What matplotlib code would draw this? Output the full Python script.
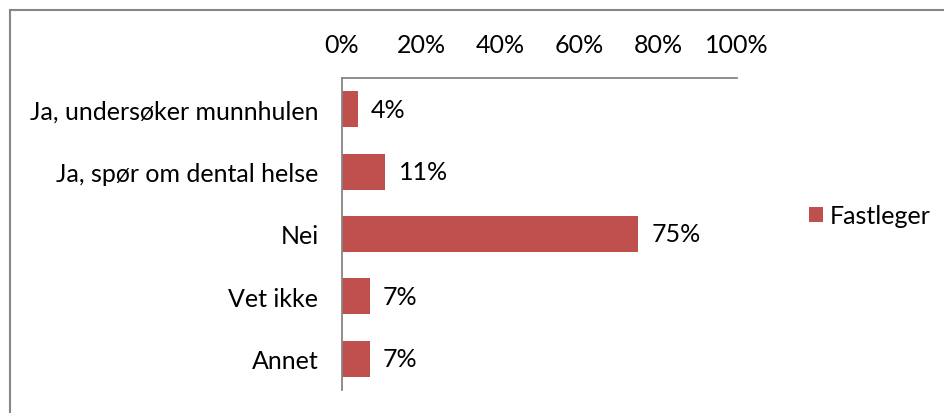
import matplotlib.pyplot as plt
from matplotlib.lines import Line2D

categories = ["Ja, undersøker munnhulen", "Ja, spør om dental helse", "Nei", "Vet ikke", "Annet"]
values = [4, 11, 75, 7, 7]
value_labels = ["4%", "11%", "75%", "7%", "7%"]
ticks = [0, 20, 40, 60, 80, 100]
series_name = "Fastleger"

bar_color = "#C0504D"
line_color = "#868686"

plt.rcParams["font.family"] = ["Lato", "DejaVu Sans"]
fs = 18

fig = plt.figure(figsize=(9.44, 4.14), dpi=100)
W, H = 944, 414
ax = fig.add_axes([342 / W, 1 - 391 / H, (737 - 342) / W, (391 - 79) / H])

y = list(range(len(categories)))
ax.barh(y, values, height=0.58, color=bar_color, label=series_name)
for yi, v, lab in zip(y, values, value_labels):
    ax.text(v + 3.3, yi, lab, va="center", ha="left", fontsize=fs)

ax.set_ylim(len(categories) - 0.5, -0.5)
ax.set_xlim(0, 100)
ax.set_yticks(y)
ax.set_yticklabels(categories, fontsize=fs)
ax.set_xticks(ticks)
ax.set_xticklabels([f"{t}%" for t in ticks], fontsize=fs)
ax.xaxis.tick_top()
ax.tick_params(axis="both", length=0)
ax.tick_params(axis="x", pad=16)
ax.tick_params(axis="y", pad=17)
for side in ["right", "bottom"]:
    ax.spines[side].set_visible(False)
for side in ["left", "top"]:
    ax.spines[side].set_color(line_color)
    ax.spines[side].set_linewidth(1.3)

fig.legend(loc="center left", bbox_to_anchor=(809 / W, 1 - 217 / H), frameon=False,
           fontsize=fs, handlelength=0.55, handleheight=0.55, handletextpad=0.3,
           borderpad=0, borderaxespad=0)

# chart outer border
fig.add_artist(Line2D([10 / W, 10 / W], [0, 1 - 11 / H], color=line_color, lw=1.5))
fig.add_artist(Line2D([10 / W, 1], [1 - 11 / H, 1 - 11 / H], color=line_color, lw=1.5))

fig.savefig("out.png", dpi=100)
